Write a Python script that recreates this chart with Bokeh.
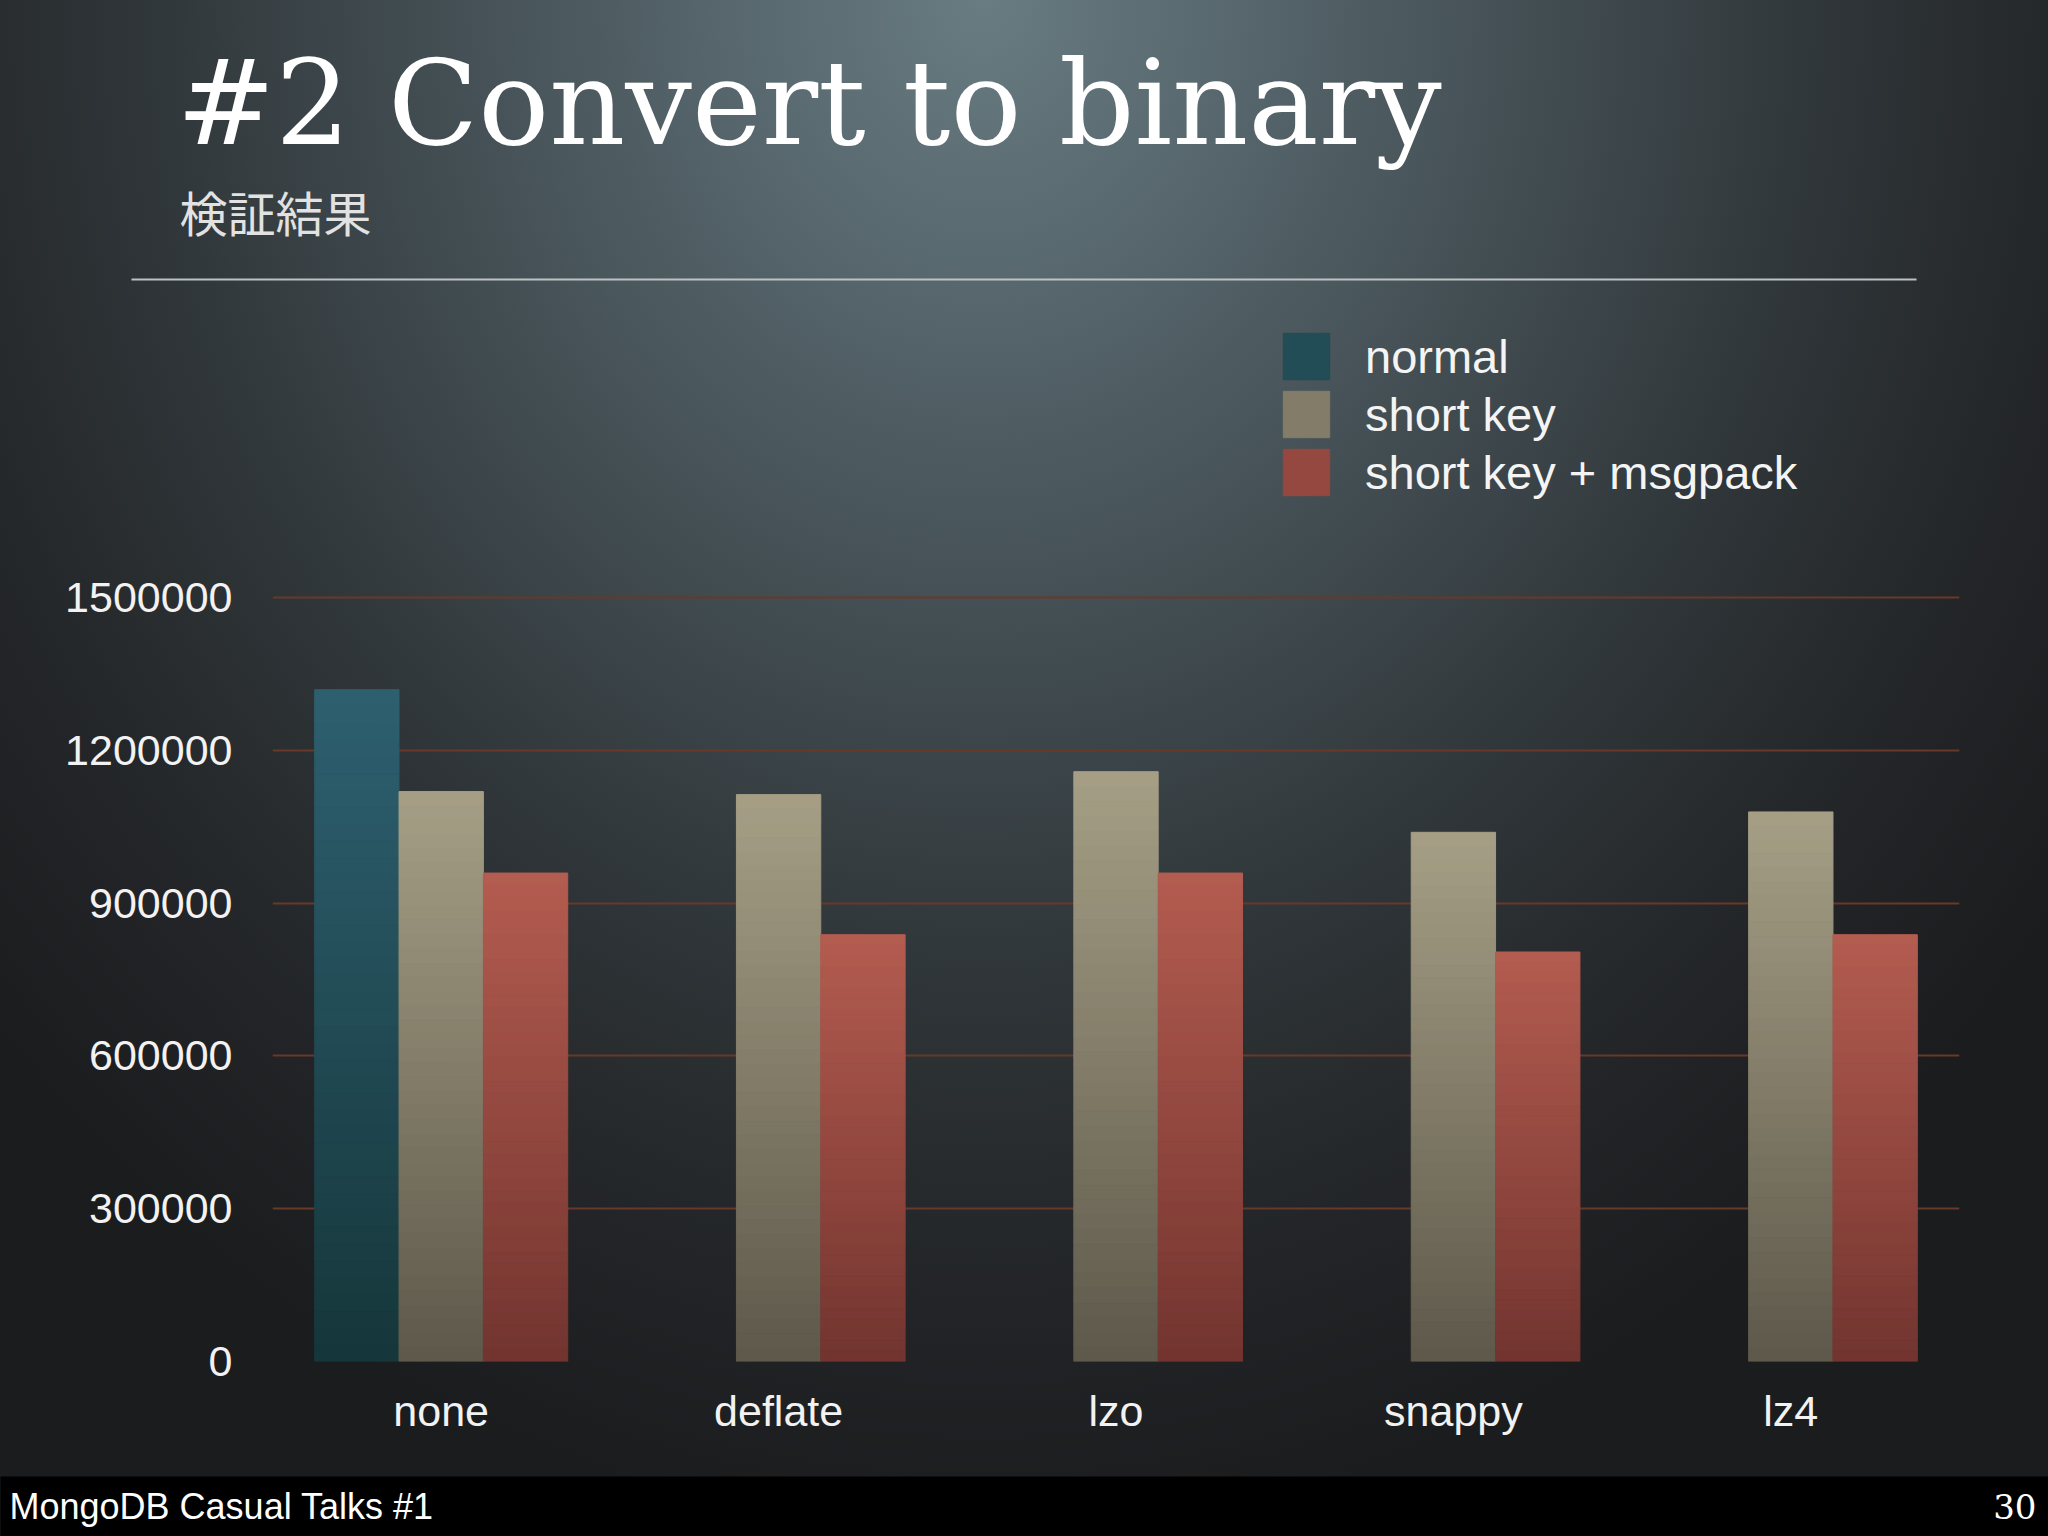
from bokeh.plotting import figure
from bokeh.models import (FactorRange, Range1d, FixedTicker, NumeralTickFormatter,
                          ColumnDataSource, Legend, LegendItem, Label, BoxAnnotation)
from bokeh.layouts import column
from bokeh.transform import dodge
from bokeh.embed import file_html
from bokeh.resources import INLINE

# ---------------- data ----------------
categories = ["none", "deflate", "lzo", "snappy", "lz4"]
normal = [1319000, None, None, None, None]
short_key = [1119000, 1113000, 1158000, 1039000, 1079000]
short_key_msgpack = [959000, 838000, 959000, 804000, 838000]
series_names = ["normal", "short key", "short key + msgpack"]
y_ticks = [0, 300000, 600000, 900000, 1200000, 1500000]

title_text = "#2 Convert to binary"
subtitle_text = "検証結果"
footer_left = "MongoDB Casual Talks #1"
footer_right = "30"

# ---------------- layout / style ----------------
W = 2048
H_HEAD, H_CHART, H_FOOT = 320, 1156, 60
FRAME_H = 1041                     # chart frame height in px
PX_PER_1500000 = 764               # px between 0 and 1500000 gridlines
Y_TOP = FRAME_H * 1500000 / PX_PER_1500000
SANS = "Liberation Sans"
grad = {  # (top colour, bottom colour)
    "normal": ("#2e6070", "#15363a"),
    "short key": ("#a69f86", "#5d584a"),
    "short key + msgpack": ("#b45c50", "#72342f"),
}
offsets = [-0.25, 0.0, 0.25]
N_SLICES = 40


def hex2rgb(h):
    h = h.lstrip("#")
    return tuple(int(h[i:i + 2], 16) for i in (0, 2, 4))


def mix(c_top, c_bot, t):
    a, b = hex2rgb(c_top), hex2rgb(c_bot)
    return "#%02x%02x%02x" % tuple(round(b[i] + (a[i] - b[i]) * t) for i in range(3))


def bare(fig):
    fig.grid.visible = False
    fig.outline_line_color = None
    fig.border_fill_alpha = 0
    fig.background_fill_alpha = 0


# ---------------- header ----------------
hd = figure(width=W, height=H_HEAD, x_range=Range1d(0, W), y_range=Range1d(0, H_HEAD),
            output_backend="svg", toolbar_location=None, min_border=0,
            x_axis_type=None, y_axis_type=None, frame_align=False)
bare(hd)
hd.add_layout(Label(x=176, y=218, text=title_text, text_font="DejaVu Serif",
                    text_font_size="118px", text_color="#ffffff",
                    text_baseline="middle"))
hd.add_layout(Label(x=179, y=110, text=subtitle_text, text_font="Noto Sans CJK JP",
                    text_font_size="48px", text_color="#e2e2e2", text_baseline="middle"))
hd.add_layout(BoxAnnotation(left=131, right=1916, bottom=40, top=42,
                            fill_color="#bcc1c3", fill_alpha=1, line_color=None))

# ---------------- chart ----------------
p = figure(width=W, height=H_CHART, x_range=FactorRange(*categories, range_padding=0),
           y_range=Range1d(0, Y_TOP), output_backend="svg", toolbar_location=None,
           min_border_left=272, min_border_right=89, min_border_top=0,
           min_border_bottom=H_CHART - FRAME_H, frame_align=False)
bare(p)

p.yaxis.ticker = FixedTicker(ticks=y_ticks)
p.yaxis.formatter = NumeralTickFormatter(format="0")
for ax in (p.xaxis, p.yaxis):
    ax.axis_line_color = None
    ax.major_tick_line_color = None
    ax.minor_tick_line_color = None
    ax.major_tick_out = 0
    ax.major_tick_in = 0
    ax.major_label_text_color = "#f2f2f2"
    ax.major_label_text_font = SANS
    ax.major_label_text_font_size = "43px"
p.yaxis.major_label_standoff = 40
p.xaxis.major_label_standoff = 25
p.ygrid.visible = True
p.ygrid.grid_line_color = "#6a3828"
p.ygrid.grid_line_width = 2
p.ygrid.ticker = FixedTicker(ticks=y_ticks)

legend_items = []
for name, vals, off in zip(series_names, [normal, short_key, short_key_msgpack], offsets):
    top_c, bot_c = grad[name]
    cat, bottom, top, color = [], [], [], []
    for c, v in zip(categories, vals):
        if v is None:
            continue
        for k in range(N_SLICES):
            cat.append(c)
            bottom.append(v * k / N_SLICES)
            top.append(v * (k + 1) / N_SLICES)
            color.append(mix(top_c, bot_c, (k + 0.5) / N_SLICES))
    src = ColumnDataSource(dict(cat=cat, bottom=bottom, top=top, color=color))
    r = p.vbar(x=dodge("cat", off, range=p.x_range), width=0.25, bottom="bottom",
               top="top", source=src, fill_color="color", line_color="color",
               line_width=1)
    legend_items.append(LegendItem(label=name, renderers=[r], index=N_SLICES // 2))

legend = Legend(items=legend_items, location=(1005, 860), orientation="vertical",
                glyph_width=58, glyph_height=58, label_height=54, spacing=0,
                label_standoff=30, padding=0, margin=0, border_line_color=None,
                background_fill_alpha=0, label_text_font=SANS,
                label_text_font_size="47px", label_text_color="#f4f4f4")
p.add_layout(legend, "center")

# ---------------- footer ----------------
f = figure(width=W, height=H_FOOT, x_range=Range1d(0, W), y_range=Range1d(0, H_FOOT),
           output_backend="svg", toolbar_location=None, min_border=0,
           x_axis_type=None, y_axis_type=None, frame_align=False)
f.grid.visible = False
f.outline_line_color = None
f.background_fill_color = "#000000"
f.border_fill_color = "#000000"
f.add_layout(Label(x=9, y=30, text=footer_left, text_font=SANS, text_font_size="36px",
                   text_color="#ffffff", text_baseline="middle"))
f.add_layout(Label(x=2036, y=30, text=footer_right, text_font="DejaVu Serif",
                   text_font_size="34px", text_color="#ffffff", text_align="right",
                   text_baseline="middle"))

page = column(hd, p, f, spacing=0)
page.styles = {"background": "radial-gradient(ellipse 65% 100% at 48% 0%, #687c82 0%, "
                             "#56666c 20%, #424d52 42%, #2e3437 65%, #222427 85%, "
                             "#1b1c1e 100%)"}
open("out.html", "w").write(file_html(page, INLINE))
